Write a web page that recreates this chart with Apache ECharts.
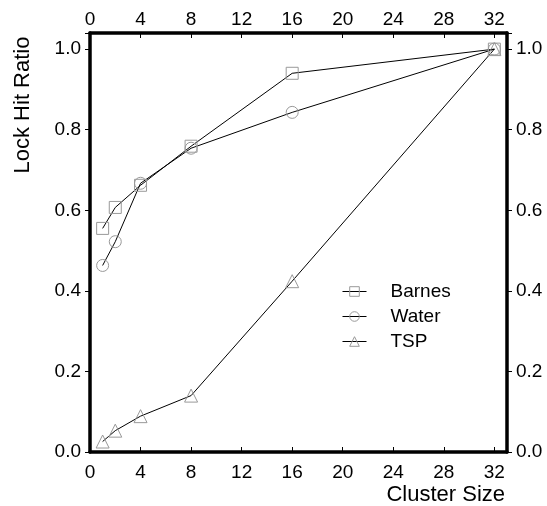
<!DOCTYPE html>
<html>
<head>
<meta charset="utf-8">
<script src="https://cdn.jsdelivr.net/npm/echarts@6/dist/echarts.min.js"></script>
<style>html,body{margin:0;padding:0;background:#fff}#c{width:547px;height:506px}</style>
</head>
<body>
<div id="c"></div>
<script>
const clusterSizes = [1, 2, 4, 8, 16, 32];
const barnes = [0.555, 0.607, 0.662, 0.759, 0.940, 1.0];
const water = [0.463, 0.522, 0.667, 0.754, 0.843, 1.0];
const tsp = [0.026, 0.053, 0.089, 0.140, 0.424, 1.0];
const seriesNames = ['Barnes', 'Water', 'TSP'];
const seriesSymbols = ['rect', 'circle', 'triangle'];
const xTicks = [0, 4, 8, 12, 16, 20, 24, 28, 32];
const yTicks = [0.0, 0.2, 0.4, 0.6, 0.8, 1.0];
const xTitle = 'Cluster Size';
const yTitle = 'Lock Hit Ratio';

const FONT = '"Liberation Sans", Arial, sans-serif';
const chart = echarts.init(document.getElementById('c'), null, {renderer: 'canvas'});
const values = [barnes, water, tsp];

function xAxisCfg(pos, margin) {
  return {
    type: 'value', position: pos, min: 0, max: 33, interval: 4,
    splitLine: {show: false},
    axisLine: {show: true, onZero: false, lineStyle: {color: '#000', width: 3.5}},
    axisTick: {show: true, inside: true, length: 5, lineStyle: {color: '#000', width: 1}},
    axisLabel: {show: true, margin: margin, color: '#000', fontSize: 19, fontFamily: FONT,
      formatter: v => xTicks.indexOf(v) >= 0 ? String(v) : ''}
  };
}
function yAxisCfg(pos) {
  return {
    type: 'value', position: pos, min: 0, max: 1.04, interval: 0.2,
    splitLine: {show: false},
    axisLine: {show: true, onZero: false, lineStyle: {color: '#000', width: 3.5}},
    axisTick: {show: true, inside: false, length: 5, lineStyle: {color: '#000', width: 1}},
    axisLabel: {show: true, margin: 9, color: '#000', fontSize: 19, fontFamily: FONT,
      formatter: v => yTicks.some(t => Math.abs(t - v) < 1e-9) ? v.toFixed(1) : ''}
  };
}

chart.setOption({
  animation: false,
  backgroundColor: '#fff',
  grid: {left: 90, right: 40, top: 33, bottom: 54, containLabel: false},
  xAxis: [xAxisCfg('bottom', 11), xAxisCfg('top', 4)],
  yAxis: [yAxisCfg('left'), yAxisCfg('right')],
  legend: {
    orient: 'vertical', left: 337, top: 277, padding: 5, itemWidth: 24, itemHeight: 12, itemGap: 6,
    data: seriesNames,
    itemStyle: {color: 'rgba(0,0,0,0)', borderColor: '#999', borderWidth: 1},
    lineStyle: {color: '#000', width: 1},
    textStyle: {color: '#000', fontSize: 19, fontFamily: FONT, padding: [0, 0, 0, 19]}
  },
  graphic: [
    {type: 'text', x: 23, y: 105, rotation: Math.PI / 2,
      style: {text: yTitle, fill: '#000', font: '22px ' + FONT, textAlign: 'center', textVerticalAlign: 'middle'}},
    {type: 'text', x: 505, y: 495,
      style: {text: xTitle, fill: '#000', font: '22px ' + FONT, textAlign: 'right', textVerticalAlign: 'middle'}}
  ],
  series: seriesNames.map((name, i) => ({
    name: name, type: 'line', xAxisIndex: 0, yAxisIndex: 0,
    data: clusterSizes.map((x, j) => [x, values[i][j]]),
    symbol: seriesSymbols[i], symbolSize: i === 2 ? 13 : 12,
    showAllSymbol: true,
    lineStyle: {color: '#000', width: 1},
    itemStyle: {color: 'rgba(0,0,0,0)', borderColor: '#999', borderWidth: 1}
  }))
});
</script>
</body>
</html>
